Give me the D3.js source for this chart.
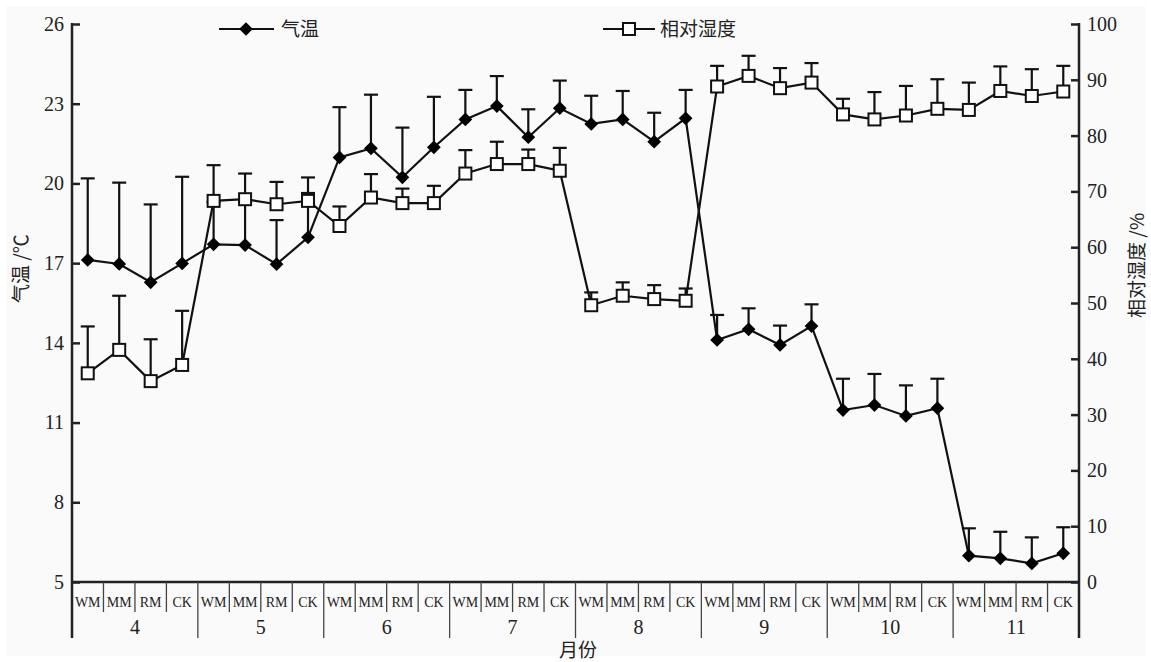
<!DOCTYPE html>
<html>
<head>
<meta charset="utf-8">
<script src="https://cdn.jsdelivr.net/npm/d3@7.9.0/dist/d3.min.js"></script>
<style>
  html, body { margin: 0; padding: 0; background: #fff; }
  svg { display: block; }
  .num { font-family: "Liberation Serif", "DejaVu Serif", serif; fill: #222; }
  .cjk { font-family: "Noto Sans CJK SC", sans-serif; fill: #222; }
</style>
</head>
<body>
<svg id="chart" width="1151" height="662"></svg>
<script>
// ======== 数据 ========
const months = ['4', '5', '6', '7', '8', '9', '10', '11'];
const treatments = ['WM', 'MM', 'RM', 'CK'];

// 气温 (℃) 及误差上限
const tempMean = [
  17.12, 16.97, 16.28, 16.99,
  17.71, 17.68, 16.96, 17.97,
  20.98, 21.32, 20.23, 21.36,
  22.41, 22.91, 21.74, 22.83,
  22.24, 22.41, 21.57, 22.45,
  14.11, 14.51, 13.92, 14.63,
  11.47, 11.66, 11.25, 11.54,
  5.99, 5.89, 5.70, 6.08
];
const tempTop = [
  20.19, 20.03, 19.21, 20.25,
  19.30, 19.30, 18.62, 19.64,
  22.87, 23.34, 22.10, 23.26,
  23.52, 24.04, 22.79, 23.87,
  23.30, 23.48, 22.66, 23.52,
  15.05, 15.30, 14.65, 15.45,
  12.65, 12.83, 12.40, 12.65,
  7.02, 6.89, 6.68, 7.06
];

// 相对湿度 (%) 及误差上限
const humMean = [
  37.4, 41.6, 36.0, 38.9,
  68.3, 68.6, 67.7, 68.3,
  63.8, 68.9, 67.9, 67.9,
  73.2, 74.9, 74.9, 73.7,
  49.6, 51.3, 50.7, 50.4,
  88.8, 90.7, 88.5, 89.5,
  83.8, 82.9, 83.6, 84.8,
  84.6, 88.0, 87.1, 87.9
];
const humTop = [
  45.8, 51.3, 43.5, 48.6,
  74.7, 73.2, 71.7, 72.5,
  67.3, 73.1, 70.5, 71.0,
  77.4, 78.9, 77.5, 77.8,
  51.9, 53.7, 53.2, 52.6,
  92.5, 94.3, 92.1, 93.0,
  86.6, 87.8, 88.9, 90.1,
  89.5, 92.4, 91.9, 92.5
];

const tempTicks = [5, 8, 11, 14, 17, 20, 23, 26];
const humTicks = [0, 10, 20, 30, 40, 50, 60, 70, 80, 90, 100];

// ======== 布局 ========
const svg = d3.select('#chart');
const mLeft = 72, mRight = 1079, mTop = 24, mBottom = 582;

svg.append('rect')
  .attr('x', 6).attr('y', 6).attr('width', 1140).attr('height', 650)
  .attr('fill', '#fafafa');

const cats = [];
months.forEach(m => treatments.forEach(t => cats.push(m + '-' + t)));

const x = d3.scaleBand().domain(cats).range([mLeft, mRight]).padding(0);
const yT = d3.scaleLinear().domain([5, 26]).range([mBottom, mTop]);
const yH = d3.scaleLinear().domain([0, 100]).range([mBottom, mTop]);
const cx = i => x(cats[i]) + x.bandwidth() / 2;

// ======== 坐标轴 ========
const gL = svg.append('g')
  .attr('transform', `translate(${mLeft},0)`)
  .call(d3.axisLeft(yT).tickValues(tempTicks).tickSize(-8).tickSizeOuter(0).tickPadding(8));
gL.select('.domain').remove();
gL.selectAll('line').attr('stroke', '#222').attr('stroke-width', 2.5);
gL.selectAll('text').attr('class', 'num').attr('font-size', 20).attr('fill', '#222');

const gR = svg.append('g')
  .attr('transform', `translate(${mRight},0)`)
  .call(d3.axisRight(yH).tickValues(humTicks).tickSize(-8).tickSizeOuter(0).tickPadding(8));
gR.select('.domain').remove();
gR.selectAll('line').attr('stroke', '#222').attr('stroke-width', 2.5);
gR.selectAll('text').attr('class', 'num').attr('font-size', 20).attr('fill', '#222');

// 轴线
svg.append('line').attr('x1', mLeft).attr('x2', mLeft).attr('y1', mTop - 1).attr('y2', 638)
  .attr('stroke', '#222').attr('stroke-width', 2.5);
svg.append('line').attr('x1', mRight).attr('x2', mRight).attr('y1', mTop - 1).attr('y2', 638)
  .attr('stroke', '#222').attr('stroke-width', 2.5);
svg.append('line').attr('x1', mLeft).attr('x2', mRight).attr('y1', mBottom).attr('y2', mBottom)
  .attr('stroke', '#222').attr('stroke-width', 2.5);

// 分类分隔线 + 标签
cats.forEach((c, i) => {
  if (i > 0) {
    const isMonth = i % 4 === 0;
    svg.append('line')
      .attr('x1', x(c)).attr('x2', x(c))
      .attr('y1', mBottom).attr('y2', isMonth ? 638 : 612)
      .attr('stroke', '#444').attr('stroke-width', 1.3);
  }
  svg.append('text')
    .attr('class', 'num')
    .attr('x', cx(i)).attr('y', 607)
    .attr('text-anchor', 'middle')
    .attr('font-size', 14)
    .text(treatments[i % 4]);
});
months.forEach((m, k) => {
  const x0 = x(cats[k * 4]);
  svg.append('text')
    .attr('class', 'num')
    .attr('x', x0 + x.bandwidth() * 2).attr('y', 634)
    .attr('text-anchor', 'middle')
    .attr('font-size', 20)
    .text(m);
});

// 轴标题
svg.append('text').attr('class', 'cjk')
  .attr('x', 578).attr('y', 657).attr('text-anchor', 'middle')
  .attr('font-size', 19).text('月份');
svg.append('text').attr('class', 'cjk')
  .attr('transform', 'translate(28,303) rotate(-90)')
  .attr('text-anchor', 'start').attr('font-size', 19).text('气温 /℃');
svg.append('text').attr('class', 'cjk')
  .attr('transform', 'translate(1144,318) rotate(-90)')
  .attr('text-anchor', 'start').attr('font-size', 19).text('相对湿度 /%');

// ======== 误差线 ========
function errorBars(means, tops, y) {
  const g = svg.append('g').attr('stroke', '#111').attr('stroke-width', 2.2);
  g.selectAll('line.v').data(means).join('line').attr('class', 'v')
    .attr('x1', (d, i) => cx(i)).attr('x2', (d, i) => cx(i))
    .attr('y1', d => y(d)).attr('y2', (d, i) => y(tops[i]));
  g.selectAll('line.c').data(tops).join('line').attr('class', 'c')
    .attr('x1', (d, i) => cx(i) - 7).attr('x2', (d, i) => cx(i) + 7)
    .attr('y1', d => y(d)).attr('y2', d => y(d));
}
errorBars(tempMean, tempTop, yT);
errorBars(humMean, humTop, yH);

// ======== 折线 ========
const lineT = d3.line().x((d, i) => cx(i)).y(d => yT(d));
const lineH = d3.line().x((d, i) => cx(i)).y(d => yH(d));
svg.append('path').datum(tempMean).attr('d', lineT)
  .attr('fill', 'none').attr('stroke', '#111').attr('stroke-width', 2.2);
svg.append('path').datum(humMean).attr('d', lineH)
  .attr('fill', 'none').attr('stroke', '#111').attr('stroke-width', 2.2);

// ======== 标记 ========
const diamond = d3.symbol().type(d3.symbolDiamond2).size(120);
svg.append('g').selectAll('path').data(tempMean).join('path')
  .attr('d', diamond)
  .attr('transform', (d, i) => `translate(${cx(i)},${yT(d)})`)
  .attr('fill', '#000');

svg.append('g').selectAll('rect').data(humMean).join('rect')
  .attr('x', (d, i) => cx(i) - 6).attr('y', d => yH(d) - 6)
  .attr('width', 12).attr('height', 12)
  .attr('fill', '#fff').attr('stroke', '#111').attr('stroke-width', 2);

// ======== 图例 ========
const lg = svg.append('g');
lg.append('line').attr('x1', 219).attr('x2', 274).attr('y1', 29).attr('y2', 29)
  .attr('stroke', '#111').attr('stroke-width', 2);
lg.append('path').attr('d', diamond).attr('transform', 'translate(246,29)').attr('fill', '#000');
lg.append('text').attr('class', 'cjk').attr('x', 281).attr('y', 36)
  .attr('font-size', 19).text('气温');

lg.append('line').attr('x1', 603).attr('x2', 655).attr('y1', 29).attr('y2', 29)
  .attr('stroke', '#111').attr('stroke-width', 2);
lg.append('rect').attr('x', 623).attr('y', 23).attr('width', 12).attr('height', 12)
  .attr('fill', '#fff').attr('stroke', '#111').attr('stroke-width', 2);
lg.append('text').attr('class', 'cjk').attr('x', 660).attr('y', 36)
  .attr('font-size', 19).text('相对湿度');
</script>
</body>
</html>
